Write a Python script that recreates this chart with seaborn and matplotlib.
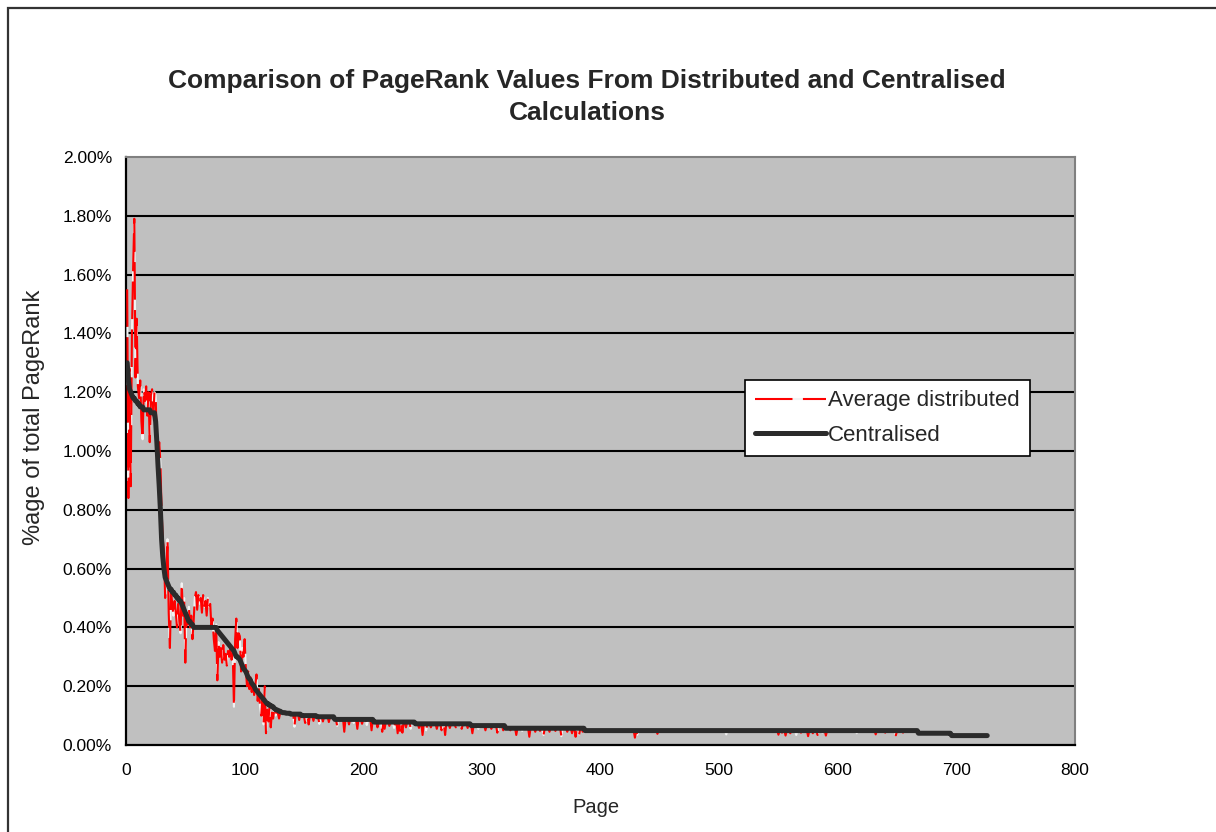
import numpy as np
import pandas as pd
import matplotlib
matplotlib.use("Agg")
import matplotlib.pyplot as plt
from matplotlib import font_manager
from matplotlib.patches import Rectangle
from matplotlib.ticker import FuncFormatter
import seaborn as sns

# ---------------- data (values in % of total PageRank) ----------------
# Centralised: step levels and the number of consecutive pages at each level
cent_levels = [1.30, 1.24, 1.21, 1.20, 1.19, 1.18, 1.17, 1.16, 1.15, 1.14,
               1.13, 1.10, 1.03, 0.95, 0.88, 0.80, 0.70, 0.64, 0.60, 0.57,
               0.56, 0.55, 0.54, 0.53, 0.52, 0.51, 0.50, 0.49, 0.48, 0.47,
               0.46, 0.45, 0.44, 0.43, 0.42, 0.41, 0.40, 0.39, 0.385, 0.38,
               0.375, 0.37, 0.365, 0.36, 0.355, 0.35, 0.345, 0.34, 0.335, 0.33,
               0.325, 0.32, 0.31, 0.30, 0.295, 0.29, 0.28, 0.27, 0.26, 0.255,
               0.25, 0.24, 0.23, 0.225, 0.22, 0.21, 0.205, 0.20, 0.19, 0.185,
               0.18, 0.175, 0.17, 0.165, 0.16, 0.155, 0.15, 0.145, 0.14, 0.135,
               0.13, 0.125, 0.12, 0.118, 0.115, 0.112, 0.11, 0.108, 0.105, 0.10,
               0.096, 0.087, 0.078, 0.072, 0.066, 0.057, 0.049, 0.040, 0.032]
cent_runs = [1, 1, 1, 1, 1, 2, 2, 2, 3, 6,
             4, 1, 1, 1, 1, 1, 1, 1, 1, 1,
             1, 1, 1, 2, 2, 2, 2, 2, 1, 1,
             1, 1, 1, 1, 2, 2, 20, 1, 1, 1,
             1, 1, 1, 1, 1, 1, 1, 1, 1, 1,
             1, 1, 1, 2, 1, 1, 1, 1, 1, 1,
             1, 1, 1, 1, 1, 1, 1, 1, 1, 1,
             1, 1, 1, 1, 1, 1, 1, 1, 2, 2,
             2, 1, 2, 1, 2, 1, 3, 4, 9, 13,
             15, 33, 35, 47, 29, 67, 281, 28, 31]

# Average distributed: pages 1..130 read one by one
dist_head = [1.55, 0.84, 1.28, 0.88, 1.40, 1.62, 1.79, 1.25, 1.45, 1.22,
             1.18, 1.24, 1.10, 1.04, 1.21, 1.17, 1.22, 1.12, 1.20, 1.03,
             1.19, 1.21, 1.12, 1.20, 1.19, 1.02, 0.98, 1.03, 0.96, 0.80,
             0.70, 0.66, 0.50, 0.60, 0.70, 0.45, 0.33, 0.52, 0.48, 0.44,
             0.49, 0.45, 0.40, 0.48, 0.42, 0.38, 0.55, 0.44, 0.50, 0.28,
             0.45, 0.41, 0.47, 0.40, 0.44, 0.36, 0.42, 0.50, 0.52, 0.46,
             0.51, 0.48, 0.50, 0.45, 0.51, 0.47, 0.49, 0.44, 0.50, 0.47,
             0.48, 0.40, 0.43, 0.36, 0.32, 0.41, 0.22, 0.35, 0.30, 0.33,
             0.28, 0.34, 0.29, 0.31, 0.27, 0.32, 0.30, 0.33, 0.29, 0.31,
             0.13, 0.36, 0.43, 0.33, 0.38, 0.37, 0.25, 0.33, 0.30, 0.36,
             0.26, 0.20, 0.25, 0.19, 0.23, 0.18, 0.22, 0.17, 0.20, 0.24,
             0.15, 0.19, 0.13, 0.10, 0.16, 0.07, 0.20, 0.04, 0.12, 0.08,
             0.13, 0.06, 0.11, 0.09, 0.12, 0.10, 0.12, 0.11, 0.09, 0.11]
# Average distributed: downward deviations further along the tail
dip_pages = [142, 146, 151, 154, 158, 163, 166, 171, 178, 184, 188, 192, 195,
             199, 203, 207, 212, 216, 218, 222, 226, 229, 231, 233, 236, 240,
             247, 250, 253, 257, 262, 266, 269, 273, 278, 283, 288, 292, 297,
             303, 308, 313, 318, 324, 329, 334, 340, 345, 349, 352, 357, 362,
             367, 372, 376, 379, 382, 385, 405, 429, 431, 448, 506, 550, 553,
             556, 560, 565, 569, 575, 579, 583, 587, 590, 616, 632, 640, 649,
             655]
dip_values = [0.062, 0.085, 0.075, 0.070, 0.082, 0.072, 0.080, 0.078, 0.065,
              0.045, 0.070, 0.075, 0.055, 0.072, 0.068, 0.050, 0.060, 0.045,
              0.055, 0.065, 0.058, 0.040, 0.048, 0.042, 0.060, 0.055, 0.058,
              0.034, 0.050, 0.060, 0.055, 0.050, 0.034, 0.058, 0.060, 0.055,
              0.058, 0.040, 0.055, 0.050, 0.055, 0.042, 0.050, 0.050, 0.034,
              0.048, 0.028, 0.045, 0.048, 0.034, 0.045, 0.048, 0.030, 0.045,
              0.040, 0.028, 0.036, 0.045, 0.044, 0.025, 0.035, 0.038, 0.036,
              0.035, 0.042, 0.032, 0.040, 0.034, 0.042, 0.030, 0.040, 0.034,
              0.042, 0.032, 0.040, 0.036, 0.042, 0.033, 0.042]

x_ticks = [0, 100, 200, 300, 400, 500, 600, 700, 800]
y_ticks = [0.0, 0.2, 0.4, 0.6, 0.8, 1.0, 1.2, 1.4, 1.6, 1.8, 2.0]

title = "Comparison of PageRank Values From Distributed and Centralised\nCalculations"
x_label = "Page"
y_label = "%age of total PageRank"
series_names = ["Average distributed", "Centralised"]

# ---------------- build per-page series ----------------
cent = np.repeat(np.array(cent_levels), np.array(cent_runs))
pages = np.arange(1, len(cent) + 1)
dist = cent.copy()
dist[:len(dist_head)] = dist_head
dist[np.array(dip_pages) - 1] = dip_values
df = pd.DataFrame({"page": pages, "dist": dist, "cent": cent})

# ---------------- fonts ----------------
def have(name):
    try:
        font_manager.findfont(name, fallback_to_default=False)
        return True
    except Exception:
        return False

main_font = "Liberation Sans" if have("Liberation Sans") else "DejaVu Sans"

sns.set_style("white")
plt.rcParams["font.family"] = [main_font, "DejaVu Sans"]

# ---------------- figure ----------------
W, H = 1216, 832
fig = plt.figure(figsize=(W / 100, H / 100), dpi=100, facecolor="white")
ax = fig.add_axes([126 / W, 1 - 745 / H, 949 / W, 588 / H])
ax.set_facecolor("#C0C0C0")

sns.lineplot(data=df, x="page", y="dist", ax=ax, color="#FF0000",
             linewidth=1.5, linestyle=(0, (18, 5)), gapcolor="#F2F2F2",
             label=series_names[0], sort=False, estimator=None, zorder=3)
sns.lineplot(data=df, x="page", y="cent", ax=ax, color="#2B2B2B",
             linewidth=3.6, label=series_names[1], sort=False,
             estimator=None, zorder=4)

ax.set_xlim(0, 800)
ax.set_ylim(0, 2.0)
ax.set_xticks(x_ticks)
ax.set_yticks(y_ticks)
ax.yaxis.set_major_formatter(FuncFormatter(lambda v, p: f"{v:.2f}%"))
ax.xaxis.set_major_formatter(FuncFormatter(lambda v, p: f"{int(v)}"))

for v in y_ticks[1:-1]:
    ax.axhline(v, color="black", linewidth=1.5, zorder=1)

ax.tick_params(axis="both", direction="out", length=6, width=1.2,
               color="black", labelcolor="black", labelsize=12.5)
ax.tick_params(axis="y", pad=4)
ax.tick_params(axis="x", pad=7)

for side in ["left", "bottom"]:
    ax.spines[side].set_color("black")
    ax.spines[side].set_linewidth(1.6)
for side in ["top", "right"]:
    ax.spines[side].set_color("#808080")
    ax.spines[side].set_linewidth(1.5)

ax.set_xlabel(x_label, fontsize=14.5)
ax.xaxis.set_label_coords(0.495, -0.09)
ax.set_ylabel(y_label, fontsize=17)
ax.yaxis.set_label_coords(-0.085, 0.558)

fig.text(587 / W, 1 - 97 / H, title, ha="center", va="center",
         fontsize=19, fontweight="bold", linespacing=1.45)

leg = ax.legend(loc="upper left", bbox_to_anchor=(0.652, 0.62),
                frameon=True, fancybox=False, framealpha=1,
                edgecolor="black", fontsize=16, handlelength=3.2,
                handletextpad=0.1, labelspacing=0.6, borderpad=0.45,
                borderaxespad=0)
leg.get_frame().set_linewidth(1.2)
leg.set_zorder(10)

# outer chart-area border
fig.add_artist(Rectangle((8 / W, -0.1), 1.2, (H - 8) / H + 0.1,
                         transform=fig.transFigure, fill=False,
                         edgecolor="#333333", linewidth=1.6))

fig.savefig("out.png", dpi=100, facecolor="white")
